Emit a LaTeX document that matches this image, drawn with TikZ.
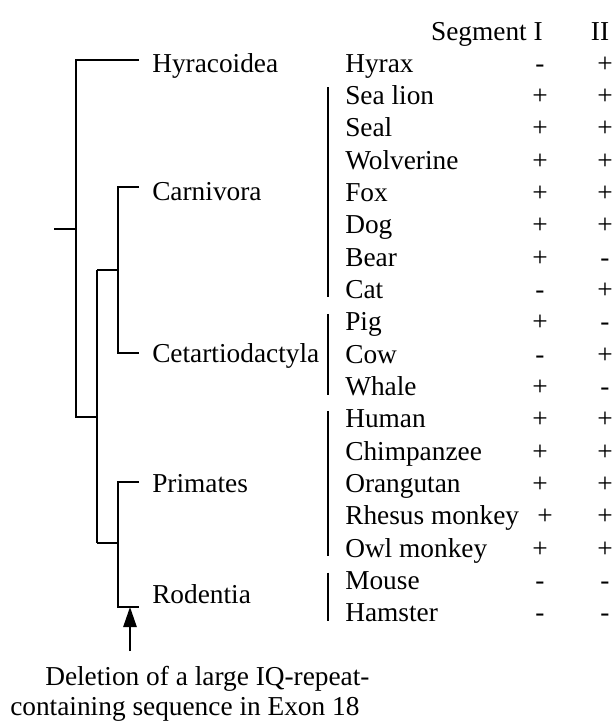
\documentclass[tikz,border=0pt]{standalone}
\usepackage{fontspec}
\setmainfont{Liberation Serif}
\usetikzlibrary{arrows.meta}

\begin{document}
\begin{tikzpicture}[x=0.75pt,y=-0.75pt,
  branch/.style={line width=1.3pt,line join=miter},
  bar/.style={line width=0.9pt},
  txt/.style={inner sep=0pt,font=\fontsize{20.5}{24}\selectfont},
  clade/.style={txt,anchor=base west},
  sign/.style={txt,anchor=base}]
  \useasboundingbox (0,0) rectangle (616,722);
  % column heads
  \node[txt,anchor=base east] (segI) at (543,40) {Segment I};
  \node[sign] (segII) at (600,40) {II};
  % species with segments I and II
  \foreach \n/\a/\xa/\b [count=\i from 0] in {Hyrax/-/540/+,Sea lion/+/540/+,Seal/+/540/+,
    Wolverine/+/540/+,Fox/+/540/+,Dog/+/540/+,Bear/+/540/-,Cat/-/540/+,Pig/+/540/-,
    Cow/-/540/+,Whale/+/540/-,Human/+/540/+,Chimpanzee/+/540/+,Orangutan/+/540/+,
    Rhesus monkey/+/545/+,Owl monkey/+/540/+,Mouse/-/540/-,Hamster/-/540/-} {
    \node[clade] (sp\i) at (345,{72+32.35*\i}) {\n};
    \node[sign] (sI\i) at (\xa,{72+32.35*\i}) {\a};
    \node[sign] (sII\i) at (605,{72+32.35*\i}) {\b};
  }
  % bars for the orders
  \foreach \a/\b in {1/7,8/10,11/15,16/17}
    \draw[bar] (328,{63+32.35*\a-8}) -- (328,{63+32.35*\b+8});
  % orders
  \node[clade] (gHyr) at (152,72) {Hyracoidea};
  \node[clade] (gCar) at (152,200) {Carnivora};
  \node[clade] (gCet) at (152,362) {Cetartiodactyla};
  \node[clade] (gPri) at (152,492) {Primates};
  \node[clade] (gRod) at (152,603) {Rodentia};
  % tree
  \coordinate (root) at (54,229);
  \coordinate (nR) at (76,229);
  \coordinate (nX) at (97,417);
  \coordinate (nCC) at (97,270);
  \coordinate (mCC) at (118,270);
  \coordinate (nPR) at (97,543);
  \coordinate (mPR) at (118,543);
  \coordinate (hyr) at (139,60);
  \coordinate (car) at (139,187);
  \coordinate (cet) at (139,353);
  \coordinate (pri) at (139,482);
  \coordinate (rod) at (139,607);
  \draw[branch] (root) -- (nR);
  \draw[branch] (hyr) -| (nR) |- (nX);
  \draw[branch] (nCC) -- (nPR);
  \draw[branch] (car) -| (mCC) |- (cet);
  \draw[branch] (nCC) -- (mCC);
  \draw[branch] (pri) -| (mPR) |- (rod);
  \draw[branch] (nPR) -- (mPR);
  % deletion
  \coordinate (tail) at (130,651);
  \draw[line width=1.2pt,-{Triangle[length=15pt,width=10pt]}] (tail) -- (tail |- rod);
  \node[clade] (cap1) at (45,685) {Deletion of a large IQ-repeat-};
  \node[clade] (cap2) at (10,715) {containing sequence in Exon 18};
\end{tikzpicture}
\end{document}
